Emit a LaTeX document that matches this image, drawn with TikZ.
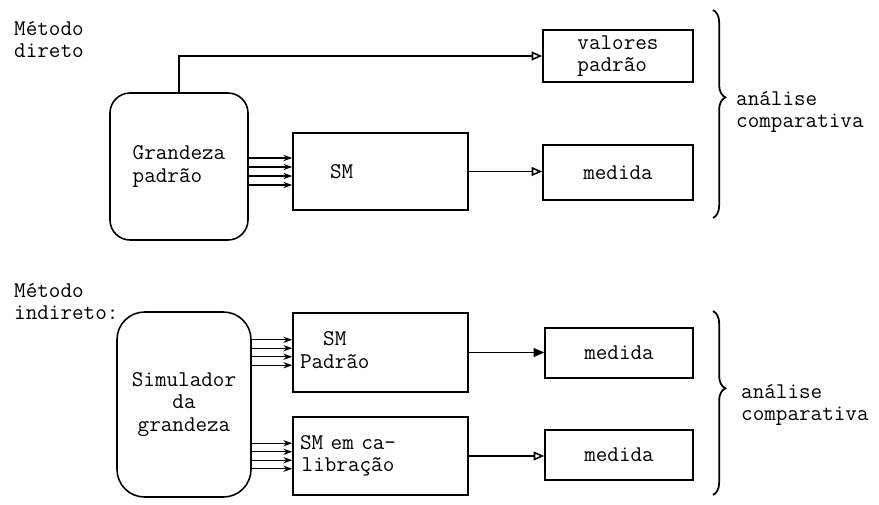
\documentclass[tikz,border=0pt]{standalone}
\usepackage{fontspec}
\usepackage{tikz}
\usetikzlibrary{arrows.meta,positioning,calc,decorations.pathreplacing}

\begin{document}
\begin{tikzpicture}[x=0.02cm, y=-0.02cm,
  font=\ttfamily\fontsize{12.8}{12.8}\selectfont,
  box/.style={draw, line width=0.9pt, minimum width=3.5cm, align=center, inner sep=2pt},
  src/.style={draw, line width=0.9pt, align=center},
  flow/.style={line width=0.9pt, -{Triangle[open, length=6pt, width=5pt]}},
  feed/.style={line width=0.7pt, -{Stealth[length=5pt, width=3.5pt]}},
  cmp/.style={line width=1pt, decorate, decoration={brace, amplitude=7pt, aspect=0.42}}
]
  \useasboundingbox (0,0) rectangle (879,504);

  % metodo direto
  \node[anchor=north west, align=left] (dir) at (8,15) {Método\\direto};
  \node[src, rounded corners=0.4cm, minimum width=2.76cm, minimum height=2.94cm,
        align=left] (gp) at (179,166.5) {Grandeza\\padrão};
  \node[box, minimum height=1.54cm, text width=2.02cm, inner xsep=0.74cm,
        align=left] (sm) at (380.5,171.5) {SM};
  \node[box, minimum width=3cm, minimum height=1.04cm, align=left] (vp) at (618,56) {valores\\padrão};
  \node[box, minimum width=3cm, minimum height=1.1cm] (md1) at (618,172.5) {medida};

  \draw[flow] (gp.north) |- (vp.west);
  \foreach \d in {-13.5,-4.5,4.5,13.5}
    \draw[feed] ($(sm.west -| gp.east)+(0,\d)$) -- ($(sm.west)+(0,\d)$);
  \draw[flow] (sm.east) -- (sm.east -| md1.west);

  \coordinate (b1t) at (713,10);
  \coordinate (b1b) at (713,218);
  \draw[cmp] (b1t) -- (b1b);
  \node[anchor=west, align=left] (cmp1) at (730,112) {análise\\comparativa};

  % metodo indireto
  \node[anchor=north west, align=left] (ind) at (8,277) {Método\\indireto:};
  \node[src, rounded corners=0.55cm, minimum width=2.68cm, minimum height=3.7cm]
        (sim) at (184,404.5) {Simulador\\da\\grandeza};
  \node[box, minimum height=1.58cm, text width=3.22cm, inner xsep=0.14cm,
        align=left] (smp) at (380.5,352.5) {\begin{tabular}{@{}c@{}}SM\\Padrão\end{tabular}};
  \node[box, minimum height=1.56cm, text width=3.22cm, inner xsep=0.14cm,
        align=left] (smc) at (380.5,456) {\begin{tabular}{@{}c@{}}SM em ca-\\libração\end{tabular}};
  \node[box, minimum width=2.96cm, minimum height=1cm] (md2) at (619,353) {medida};
  \node[box, minimum width=2.96cm, minimum height=1cm] (md3) at (619,455) {medida};

  \foreach \d in {-12.75,-4.25,4.25,12.75} {
    \draw[feed] ($(smp.west -| sim.east)+(0,\d)$) -- ($(smp.west)+(0,\d)$);
    \draw[feed] ($(smc.west -| sim.east)+(0,\d)$) -- ($(smc.west)+(0,\d)$);
  }
  \draw[flow, -{Triangle[length=6pt, width=5pt]}] (smp.east) -- (smp.east -| md2.west);
  \draw[flow] (smc.east) -- (smc.east -| md3.west);

  \coordinate (b2t) at (713,311);
  \coordinate (b2b) at (713,495);
  \draw[cmp] (b2t) -- (b2b);
  \node[anchor=west, align=left] (cmp2) at (735,405) {análise\\comparativa};
\end{tikzpicture}
\end{document}
